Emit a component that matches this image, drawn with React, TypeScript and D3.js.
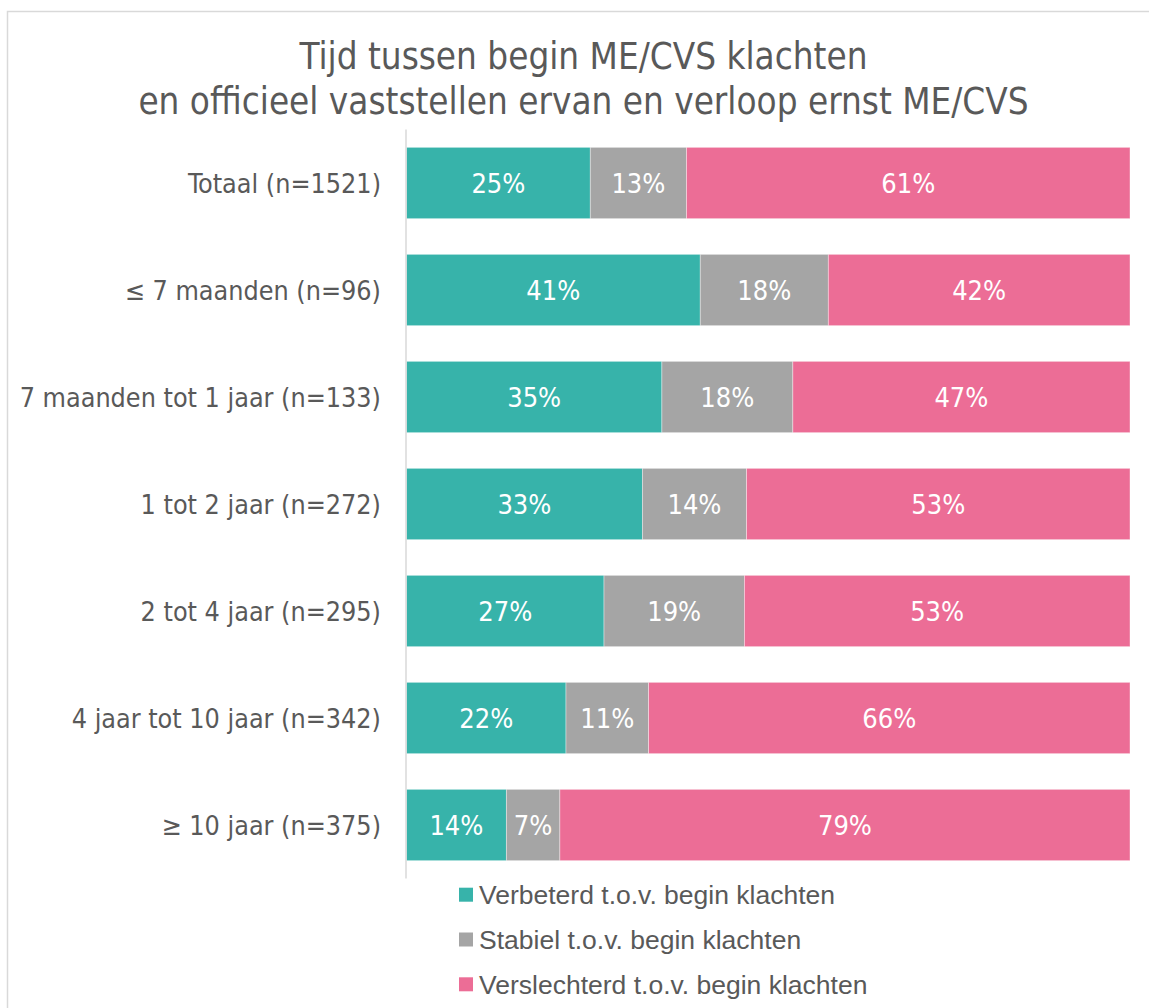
import React from "react";
import * as d3 from "d3";

const categories = [
  "Totaal (n=1521)",
  "≤ 7 maanden (n=96)",
  "7 maanden tot 1 jaar (n=133)",
  "1 tot 2 jaar (n=272)",
  "2 tot 4 jaar (n=295)",
  "4 jaar tot 10 jaar (n=342)",
  "≥ 10 jaar (n=375)",
];
const verbeterd = [25.4, 40.6, 35.3, 32.6, 27.3, 22.0, 13.8];
const stabiel = [13.3, 17.7, 18.1, 14.4, 19.4, 11.4, 7.4];
const verslechterd = [61.3, 41.7, 46.6, 53.0, 53.3, 66.4, 78.8];
const seriesNames = [
  "Verbeterd t.o.v. begin klachten",
  "Stabiel t.o.v. begin klachten",
  "Verslechterd t.o.v. begin klachten",
];
const seriesColors = ["#37B3AA", "#A5A5A5", "#EC6D96"];
const titleLines = [
  "Tijd tussen begin ME/CVS klachten",
  "en officieel vaststellen ervan en verloop ernst ME/CVS",
];

const W = 1149;
const H = 1008;
const plot = { left: 406.5, right: 1130, top: 129.5, bottom: 878.5 };
const font = "'DejaVu Sans Condensed', 'DejaVu Sans', sans-serif";
const textColor = "#595959";

export default function App() {
  const keys = ["v", "s", "x"];
  const rows = categories.map((c, i) => ({
    cat: c,
    v: verbeterd[i],
    s: stabiel[i],
    x: verslechterd[i],
  }));
  const stack = d3.stack<any>().keys(keys).offset(d3.stackOffsetExpand);
  const layers = stack(rows);
  const x = d3.scaleLinear().domain([0, 1]).range([plot.left, plot.right]);
  const y = d3
    .scaleBand()
    .domain(categories)
    .range([plot.top, plot.bottom])
    .paddingInner(1 / 3)
    .paddingOuter(1 / 6);

  return (
    <svg
      width={W}
      height={H}
      style={{ position: "absolute", left: 0, top: 0, background: "#fff" }}
    >
      <rect x={7.5} y={11.5} width={W} height={H} fill="#fff" stroke="#D9D9D9" strokeWidth={1.5} />
      {titleLines.map((t, i) => (
        <text
          key={i}
          x={583.5}
          y={69 + i * 44.5}
          textAnchor="middle"
          fontFamily={font}
          fontSize={36.5}
          fill={textColor}
        >
          {t}
        </text>
      ))}
      {layers.map((layer, li) => (
        <g key={li}>
          {layer.map((d, i) => {
            const x0 = x(d[0]);
            const x1 = x(d[1]);
            const yy = y(categories[i])!;
            const raw = [verbeterd, stabiel, verslechterd][li][i];
            return (
              <g key={i}>
                <rect
                  x={x0}
                  y={yy}
                  width={x1 - x0}
                  height={y.bandwidth()}
                  fill={seriesColors[li]}
                  stroke="#fff"
                  strokeOpacity={0.5}
                  strokeWidth={0.75}
                />
                <text
                  x={(x0 + x1) / 2}
                  y={yy + y.bandwidth() / 2}
                  dy="0.36em"
                  textAnchor="middle"
                  fontFamily={font}
                  fontSize={27}
                  fill="#fff"
                >
                  {Math.round(raw)}%
                </text>
              </g>
            );
          })}
        </g>
      ))}
      <line
        x1={plot.left - 0.5}
        x2={plot.left - 0.5}
        y1={plot.top}
        y2={plot.bottom}
        stroke="#D9D9D9"
        strokeWidth={1.5}
      />
      {categories.map((c) => (
        <text
          key={c}
          x={381}
          y={y(c)! + y.bandwidth() / 2}
          dy="0.36em"
          textAnchor="end"
          fontFamily={font}
          fontSize={26.7}
          fill={textColor}
        >
          {c}
        </text>
      ))}
      {seriesNames.map((n, i) => (
        <g key={n} transform={`translate(459, ${894.7 + i * 44.8})`}>
          <rect x={0} y={-7} width={14} height={14} fill={seriesColors[i]} />
          <text
            x={20}
            y={0}
            dy="0.36em"
            fontFamily="'Liberation Sans', Arial, sans-serif"
            fontSize={26.5}
            fill={textColor}
          >
            {n}
          </text>
        </g>
      ))}
    </svg>
  );
}
